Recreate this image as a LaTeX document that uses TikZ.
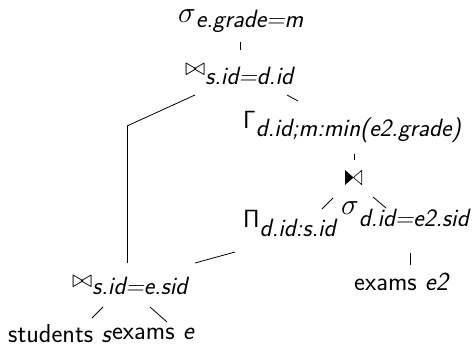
\documentclass[tikz,border=0pt]{standalone}
\usepackage{amssymb}
\usepackage{graphicx}
\newcommand{\lowsub}[2][7pt]{\raisebox{-#1}{\slshape #2}}
\newcommand{\bigsig}{\scalebox{1.2}{$\sigma$}}
\newcommand{\smallbowtie}{{\fontsize{23}{27}\selectfont$\bowtie$}}
\begin{document}
\begin{tikzpicture}[x=1pt,y=-1pt,
  lab/.style={font=\fontsize{25}{30}\selectfont\sffamily, inner sep=0pt, anchor=base west},
  leaf/.style={font=\fontsize{26}{31}\selectfont\sffamily, inner sep=0pt, anchor=base west},
  edge/.style={line width=0.8pt, black},
  semijoin/.style={minimum width=17pt, minimum height=15pt, inner sep=0pt,
    path picture={
      \fill (path picture bounding box.north west) -- (path picture bounding box.center) -- (path picture bounding box.south west) -- cycle;
      \draw[line width=0.6pt] ([xshift=-0.3pt,yshift=-0.3pt]path picture bounding box.north east) -- (path picture bounding box.center) -- ([xshift=-0.3pt,yshift=0.3pt]path picture bounding box.south east) -- cycle;}}
]
\useasboundingbox (0,0) rectangle (475,350);

\node[lab] (top) at (178,23) {\bigsig\lowsub[5pt]{e.grade=m}};
\node[lab] (j1) at (185,76) {\smallbowtie\lowsub[9pt]{s.id=d.id}};
\node[lab] (gamma) at (243,129) {$\mathsf{\Gamma}$\lowsub[8pt]{d.id;m:min(e2.grade)}};
\node[semijoin] (semi) at (353.5,177.5) {};
\node[lab] (pi) at (243,228) {$\mathsf{\Pi}$\lowsub[9pt]{d.id:s.id}};
\node[lab] (sig2) at (341,215) {\bigsig\lowsub[12pt]{d.id=e2.sid}};
\node[leaf] (e2) at (354,291) {exams {\slshape e2}};
\node[lab] (j2) at (72,288) {\smallbowtie\lowsub[7pt]{s.id=e.sid}};
\node[leaf] (stu) at (8,343) {students {\slshape s}};
\node[leaf] (ex) at ([xshift=1pt,yshift=3pt]stu.base east) {exams {\slshape e}};
\coordinate (p) at (127,126);

\draw[edge] (240,42) -- (240,50);
\draw[edge] (195,95) -- (p);
\draw[edge] (p) -- (127,263);
\draw[edge] (287,95) -- (298,101);
\draw[edge] (354,154) -- (354,160);
\draw[edge] (333,198) -- (322,209);
\draw[edge] (373,197) -- (386,208);
\draw[edge] (410,253) -- (410,265);
\draw[edge] (235,252) -- (195,263);
\draw[edge] (103,307) -- (92,318);
\draw[edge] (150,307) -- (167,322);
\end{tikzpicture}
\end{document}
